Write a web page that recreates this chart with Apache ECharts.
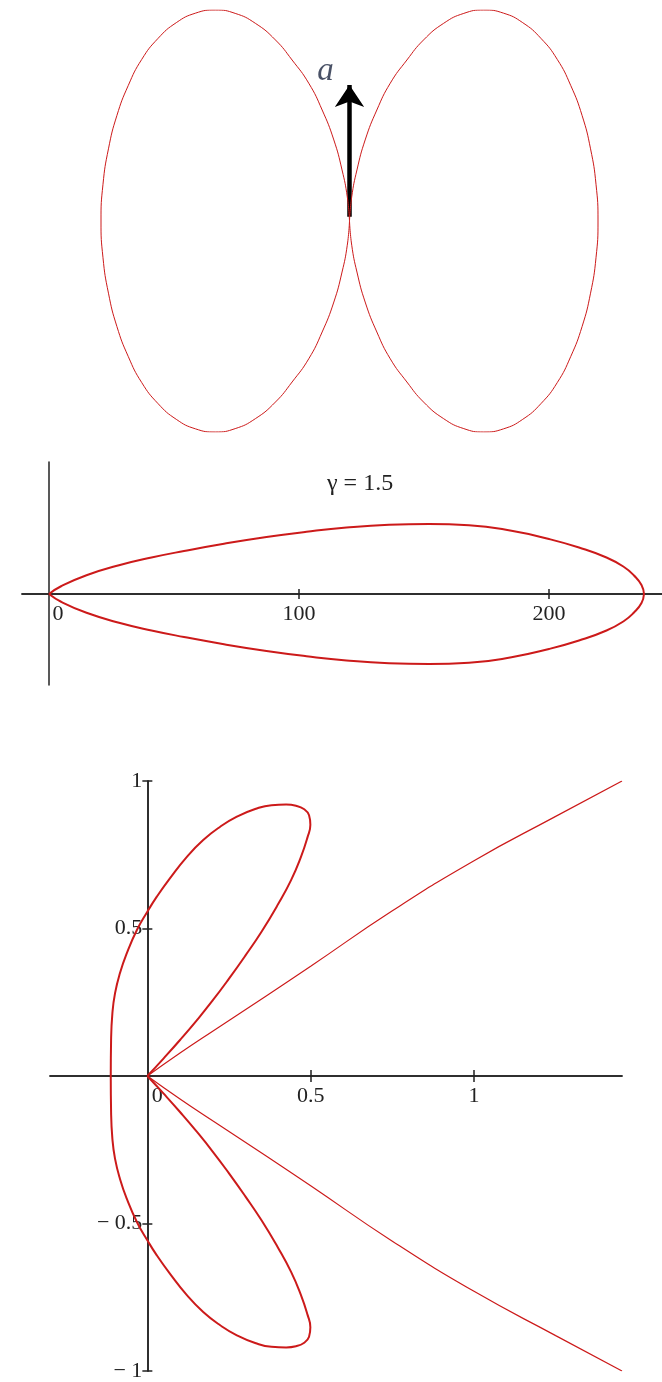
<!DOCTYPE html>
<html>
<head>
<meta charset="utf-8">
<script src="https://cdn.jsdelivr.net/npm/echarts@6/dist/echarts.min.js"></script>
<style>
  html, body { margin: 0; padding: 0; background: #ffffff; }
  #chart { width: 662px; height: 1382px; }
</style>
</head>
<body>
<div id="chart"></div>
<script>
// ---- Panel 1: dipole pattern (two lobes) with the vector a ----
const leftLobe = [
  [0,0],[-0.009,0.115],[-0.03,0.242],[-0.063,0.384],[-0.11,0.526],[-0.164,0.653],[-0.231,0.763],
  [-0.298,0.858],[-0.379,0.937],[-0.46,0.984],[-0.54,1.0],[-0.62,0.985],[-0.697,0.94],
  [-0.77,0.866],[-0.836,0.766],[-0.89,0.643],[-0.936,0.5],[-0.97,0.342],[-0.992,0.174],[-1.0,0],
  [-0.992,-0.174],[-0.97,-0.342],[-0.936,-0.5],[-0.89,-0.643],[-0.836,-0.766],[-0.77,-0.866],
  [-0.697,-0.94],[-0.62,-0.985],[-0.54,-1.0],[-0.46,-0.984],[-0.379,-0.937],[-0.298,-0.858],
  [-0.231,-0.763],[-0.164,-0.653],[-0.11,-0.526],[-0.063,-0.384],[-0.03,-0.242],[-0.009,-0.115],[0,0]
];
const rightLobe = [
  [0,0],[0.009,0.115],[0.03,0.242],[0.063,0.384],[0.11,0.526],[0.164,0.653],[0.231,0.763],
  [0.298,0.858],[0.379,0.937],[0.46,0.984],[0.54,1.0],[0.62,0.985],[0.697,0.94],
  [0.77,0.866],[0.836,0.766],[0.89,0.643],[0.936,0.5],[0.97,0.342],[0.992,0.174],[1.0,0],
  [0.992,-0.174],[0.97,-0.342],[0.936,-0.5],[0.89,-0.643],[0.836,-0.766],[0.77,-0.866],
  [0.697,-0.94],[0.62,-0.985],[0.54,-1.0],[0.46,-0.984],[0.379,-0.937],[0.298,-0.858],
  [0.231,-0.763],[0.164,-0.653],[0.11,-0.526],[0.063,-0.384],[0.03,-0.242],[0.009,-0.115],[0,0]
];
const vectorA = [[0, 0.02], [0, 0.645]];
const vectorLabel = 'a';
const vectorLabelAt = [-0.097, 0.71];

// ---- Panel 2: forward lobe for gamma = 1.5 ----
const gammaLabel = '\u03B3 = 1.5';
const gammaUpper = [
  [0,0],[5,3.2],[15,7.5],[28,11.5],[41,14.6],[54,17.2],[70,20.1],[87,22.8],[103,24.9],
  [119,26.6],[136,27.7],[152,28.0],[168,27.5],[185,25.3],[200,22.0],[212,18.6],[223,14.6],
  [230,10.8],[234,7.4],[237,3.6],[238,0]
];
const gammaLower = [
  [0,0],[5,-3.2],[15,-7.5],[28,-11.5],[41,-14.6],[54,-17.2],[70,-20.1],[87,-22.8],[103,-24.9],
  [119,-26.6],[136,-27.7],[152,-28.0],[168,-27.5],[185,-25.3],[200,-22.0],[212,-18.6],[223,-14.6],
  [230,-10.8],[234,-7.4],[237,-3.6],[238,0]
];
const gammaTickValues = [100, 200];
const gammaLabelValues = [0, 100, 200];

// ---- Panel 3: two loops and two open branches ----
const upperLoop = [
  [0,0],[0.05,0.06],[0.1,0.122],[0.15,0.187],[0.2,0.256],[0.25,0.33],[0.3,0.408],[0.35,0.49],
  [0.4,0.582],[0.44,0.664],[0.47,0.742],[0.49,0.808],[0.499,0.852],[0.495,0.884],[0.479,0.905],
  [0.455,0.916],[0.425,0.92],[0.38,0.918],[0.33,0.905],[0.274,0.879],[0.223,0.845],[0.171,0.8],
  [0.121,0.743],[0.069,0.67],[0.029,0.608],[0,0.557],[-0.032,0.495],[-0.063,0.416],
  [-0.084,0.348],[-0.099,0.28],[-0.107,0.213],[-0.111,0.122],[-0.112,0]
];
const lowerLoop = [
  [-0.112,0],[-0.111,-0.122],[-0.107,-0.213],[-0.099,-0.28],[-0.084,-0.348],[-0.063,-0.416],
  [-0.032,-0.495],[0,-0.557],[0.029,-0.608],[0.069,-0.67],[0.121,-0.743],[0.171,-0.8],
  [0.223,-0.845],[0.274,-0.879],[0.33,-0.905],[0.38,-0.918],[0.425,-0.92],[0.455,-0.916],
  [0.479,-0.905],[0.495,-0.884],[0.499,-0.852],[0.49,-0.808],[0.47,-0.742],[0.44,-0.664],
  [0.4,-0.582],[0.35,-0.49],[0.3,-0.408],[0.25,-0.33],[0.2,-0.256],[0.15,-0.187],[0.1,-0.122],
  [0.05,-0.06],[0,0]
];
const upperRay = [
  [0,0],[0.1,0.078],[0.2,0.152],[0.365,0.272],[0.5,0.372],[0.75,0.56],[1.0,0.73],
  [1.25,0.88],[1.453,1.0]
];
const lowerRay = [
  [0,0],[0.1,-0.078],[0.2,-0.152],[0.365,-0.272],[0.5,-0.372],[0.75,-0.56],[1.0,-0.73],
  [1.25,-0.88],[1.453,-1.0]
];
const xTickValues3 = [0.5, 1];
const xLabelValues3 = [0, 0.5, 1];
const yTickValues3 = [-1, -0.5, 0.5, 1];

// ---- styling ----
const RED = '#cc1a1a';
const AXIS = '#222222';
const FONT = 'Liberation Serif';
const FS = 22;

// plotting areas and value windows of the three panels
const grids = [
  { left: 101, top: 10, width: 497, height: 422 },
  { left: 22, top: 462, width: 640, height: 223 },
  { left: 50, top: 781, width: 572, height: 590 }
];
const ranges = [
  { x: [-1, 1], y: [-1, 1] },
  { x: [-10.8, 245.2], y: [-36.4, 52.8] },
  { x: [-0.298, 1.453], y: [-1, 1] }
];

// pixel position of the value 0 inside a panel, used to run the axes through the origin
function zeroAt(i) {
  const g = grids[i], r = ranges[i];
  return {
    x: g.left + g.width * (0 - r.x[0]) / (r.x[1] - r.x[0]),
    y: g.top + g.height * (r.y[1] - 0) / (r.y[1] - r.y[0])
  };
}
function axisOffset(i, pos) {
  const g = grids[i], z = zeroAt(i);
  if (pos === 'bottom') return z.y - (g.top + g.height);
  if (pos === 'top') return g.top - z.y;
  if (pos === 'left') return g.left - z.x;
  return z.x - (g.left + g.width);
}

const chart = echarts.init(document.getElementById('chart'), null, { renderer: 'canvas' });

const zeroRich = (pad) => ({
  z: { fontFamily: FONT, fontSize: FS, color: AXIS, padding: [0, 0, 0, pad] }
});

function hiddenAxis(extra) {
  return Object.assign({ type: 'value', show: false, splitLine: { show: false } }, extra);
}

function crossAxis(i, dim, pos, extra) {
  const r = ranges[i][dim];
  return Object.assign({
    type: 'value', gridIndex: i, min: r[0], max: r[1], position: pos,
    offset: axisOffset(i, pos),
    splitLine: { show: false },
    axisLine: { onZero: false, lineStyle: { color: AXIS, width: 1.5 } },
    axisTick: { show: false },
    axisLabel: { show: false }
  }, extra);
}

const tick = (values, len) => ({
  show: true, length: len, customValues: values, lineStyle: { color: AXIS, width: 1.5 }
});

const option = {
  animation: false,
  backgroundColor: '#ffffff',
  title: {
    text: gammaLabel,
    left: 322, top: 467,
    textStyle: { fontFamily: FONT, fontSize: 24, fontWeight: 'normal', color: AXIS }
  },
  grid: grids,
  xAxis: [
    hiddenAxis({ gridIndex: 0, min: ranges[0].x[0], max: ranges[0].x[1] }),
    crossAxis(1, 'x', 'bottom', {
      axisTick: tick(gammaTickValues, 5),
      axisLabel: {
        show: true, customValues: gammaLabelValues, margin: 9,
        fontFamily: FONT, fontSize: FS, color: AXIS,
        formatter: (v) => v === 0 ? '{z|0}' : String(v),
        rich: zeroRich(18)
      }
    }),
    crossAxis(1, 'x', 'top', { axisTick: tick(gammaTickValues, 5) }),
    crossAxis(2, 'x', 'bottom', {
      axisTick: tick(xTickValues3, 6),
      axisLabel: {
        show: true, customValues: xLabelValues3, margin: 9,
        fontFamily: FONT, fontSize: FS, color: AXIS,
        formatter: (v) => v === 0 ? '{z|0}' : String(v),
        rich: zeroRich(20)
      }
    }),
    crossAxis(2, 'x', 'top', { axisTick: tick(xTickValues3, 6) })
  ],
  yAxis: [
    hiddenAxis({ gridIndex: 0, min: ranges[0].y[0], max: ranges[0].y[1] }),
    crossAxis(1, 'y', 'left', {}),
    crossAxis(2, 'y', 'left', {
      axisTick: tick(yTickValues3, 5),
      axisLabel: {
        show: true, customValues: yTickValues3, margin: 5,
        fontFamily: FONT, fontSize: FS, color: AXIS,
        formatter: (v) => v < 0 ? '\u2212 ' + String(-v) : String(v)
      }
    }),
    crossAxis(2, 'y', 'right', { axisTick: tick(yTickValues3, 5) })
  ],
  series: [
    // panel 1
    { type: 'line', xAxisIndex: 0, yAxisIndex: 0, data: leftLobe, smooth: 0.5, showSymbol: false,
      lineStyle: { color: RED, width: 1 } },
    { type: 'line', xAxisIndex: 0, yAxisIndex: 0, data: rightLobe, smooth: 0.5, showSymbol: false,
      lineStyle: { color: RED, width: 1 } },
    { type: 'lines', coordinateSystem: 'cartesian2d', xAxisIndex: 0, yAxisIndex: 0,
      symbol: ['none', 'arrow'], symbolSize: [7, 22],
      lineStyle: { color: '#000000', width: 4.5, opacity: 1 },
      data: [{ coords: vectorA }] },
    { type: 'scatter', xAxisIndex: 0, yAxisIndex: 0, symbolSize: 0,
      data: [vectorLabelAt],
      label: { show: true, position: 'inside', formatter: vectorLabel,
        fontFamily: FONT, fontStyle: 'italic', fontSize: 33, color: '#1c2540' } },
    // panel 2
    { type: 'line', xAxisIndex: 1, yAxisIndex: 1, data: gammaUpper, smooth: 0.5, showSymbol: false,
      lineStyle: { color: RED, width: 2 } },
    { type: 'line', xAxisIndex: 1, yAxisIndex: 1, data: gammaLower, smooth: 0.5, showSymbol: false,
      lineStyle: { color: RED, width: 2 } },
    // panel 3
    { type: 'line', xAxisIndex: 3, yAxisIndex: 2, data: upperLoop, smooth: 0.5, showSymbol: false,
      lineStyle: { color: RED, width: 2 } },
    { type: 'line', xAxisIndex: 3, yAxisIndex: 2, data: lowerLoop, smooth: 0.5, showSymbol: false,
      lineStyle: { color: RED, width: 2 } },
    { type: 'line', xAxisIndex: 3, yAxisIndex: 2, data: upperRay, smooth: 0.5, showSymbol: false,
      lineStyle: { color: RED, width: 1.2 } },
    { type: 'line', xAxisIndex: 3, yAxisIndex: 2, data: lowerRay, smooth: 0.5, showSymbol: false,
      lineStyle: { color: RED, width: 1.2 } }
  ]
};

chart.setOption(option);
</script>
</body>
</html>
